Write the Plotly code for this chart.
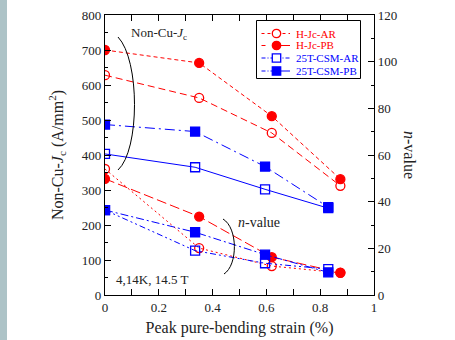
import plotly.graph_objects as go

# ---- data ----
strain_hjc = [0, 0.35, 0.62, 0.875]
strain_csm = [0, 0.335, 0.595, 0.83]

jc_hjc_ar = [628, 563, 463, 312]
jc_hjc_pb = [700, 663, 511, 331]
jc_csm_ar = [403, 365, 302, 248]
jc_csm_pb = [487, 467, 367, 251]

n_hjc_ar = [54.0, 20.1, 12.4, 9.5]
n_hjc_pb = [49.8, 33.6, 16.2, 9.6]
n_csm_ar = [36.4, 19.0, 13.6, 11.1]
n_csm_pb = [36.4, 26.9, 17.3, 9.7]

series_names = ["H-Jc-AR", "H-Jc-PB", "25T-CSM-AR", "25T-CSM-PB"]

RED = "#ff0000"
BLUE = "#0000ff"
FONT = "Liberation Serif, Times New Roman, Times, serif"
TXT = "#222222"

# plot-area geometry (pixels) used for decorative placements
L, R, T, B = 105, 374, 15, 295
def px(xp):
    return (xp - L) / (R - L)
def py(yp):
    return (B - yp) / (B - T)

fig = go.Figure()

def add(x, y, name, color, symbol, dash, yaxis):
    fig.add_trace(go.Scatter(
        x=x, y=y, mode="lines+markers", yaxis=yaxis, name=name,
        showlegend=False,
        line=dict(color=color, width=1, dash=dash),
        marker=dict(symbol=symbol, size=9, color=color,
                    line=dict(color=color, width=1.3)),
    ))

# Jc traces
add(strain_hjc, jc_hjc_ar, series_names[0], RED, "circle-open", "7px,4px", "y")
add(strain_hjc, jc_hjc_pb, series_names[1], RED, "circle", "4px,3px", "y")
add(strain_csm, jc_csm_ar, series_names[2], BLUE, "square-open", "solid", "y")
add(strain_csm, jc_csm_pb, series_names[3], BLUE, "square", "10px,4px,2px,4px", "y")
# n-value traces
add(strain_hjc, n_hjc_ar, series_names[0], RED, "circle-open", "2px,3px", "y2")
add(strain_hjc, n_hjc_pb, series_names[1], RED, "circle", "10px,4px", "y2")
add(strain_csm, n_csm_ar, series_names[2], BLUE, "square-open", "6px,3px,2px,3px,2px,3px", "y2")
add(strain_csm, n_csm_pb, series_names[3], BLUE, "square", "8px,3px,2px,3px", "y2")

axis_common = dict(
    showline=True, linecolor="black", linewidth=1.2,
    ticks="inside", ticklen=6, tickcolor="black", tickwidth=1,
    showgrid=False, zeroline=False, automargin=False,
    tickfont=dict(family=FONT, size=13, color=TXT),
)

fig.update_layout(
    width=455, height=340,
    margin=dict(l=L, r=455 - R, t=T, b=340 - B),
    paper_bgcolor="white", plot_bgcolor="white",
    font=dict(family=FONT, color=TXT),
    showlegend=False,
    xaxis=dict(range=[0, 1], dtick=0.2, mirror="allticks",
               minor=dict(dtick=0.1, ticks="inside", ticklen=3, tickcolor="black"),
               title=dict(text="Peak pure-bending strain (%)",
                          font=dict(family=FONT, size=16, color=TXT), standoff=8),
               **axis_common),
    yaxis=dict(range=[0, 800], dtick=100,
               minor=dict(dtick=50, ticks="inside", ticklen=3, tickcolor="black"),
               title=dict(text="Non-Cu-<i>J</i><sub>c</sub> (A/mm<sup>2</sup>)",
                          font=dict(family=FONT, size=16, color=TXT), standoff=14),
               **axis_common),
    yaxis2=dict(range=[0, 120], dtick=20, overlaying="y", side="right",
                minor=dict(dtick=10, ticks="inside", ticklen=3, tickcolor="black"),
                **axis_common),
)

# right axis title (reads top-to-bottom)
fig.add_annotation(xref="paper", yref="paper", x=px(410), y=0.5, textangle=90,
                   xanchor="center", yanchor="middle",
                   text="<i>n</i>-value", showarrow=False,
                   font=dict(family=FONT, size=16, color=TXT))
fig.add_annotation(xref="paper", yref="paper", x=px(129), y=py(33), xanchor="left",
                   yanchor="middle", text="Non-Cu-<i>J</i><sub>c</sub>", showarrow=False,
                   font=dict(family=FONT, size=13, color=TXT))
fig.add_annotation(xref="paper", yref="paper", x=px(236), y=py(222), xanchor="left",
                   yanchor="middle", text="<i>n</i>-value", showarrow=False,
                   font=dict(family=FONT, size=14, color=TXT))
fig.add_annotation(xref="paper", yref="paper", x=px(114), y=py(279), xanchor="left",
                   yanchor="middle", text="4,14K, 14.5 T", showarrow=False,
                   font=dict(family=FONT, size=13, color=TXT))

# braces
def bez(p0, c1, c2, p1):
    return "M {},{} C {},{} {},{} {},{}".format(
        px(p0[0]), py(p0[1]), px(c1[0]), py(c1[1]),
        px(c2[0]), py(c2[1]), px(p1[0]), py(p1[1]))
fig.add_shape(type="path", xref="paper", yref="paper",
              path=bez((118, 37), (140, 60), (140, 150), (118, 170)),
              line=dict(color="black", width=1))
fig.add_shape(type="path", xref="paper", yref="paper",
              path=bez((223, 219), (238, 228), (238, 265), (224, 274)),
              line=dict(color="black", width=1))

# custom compact legend
fig.add_shape(type="rect", xref="paper", yref="paper",
              x0=px(256.5), x1=px(360.5), y0=py(78.5), y1=py(20.5),
              fillcolor="white", line=dict(color="black", width=1))
legend_rows = [
    (series_names[0], RED, "circle", False, "3px,3px", "3px,3px"),
    (series_names[1], RED, "circle", True, "4px,8px", "solid"),
    (series_names[2], BLUE, "rect", False, "4px,2px,1px,2px", "4px,2px,1px,2px"),
    (series_names[3], BLUE, "rect", True, "4px,2px,1px,2px", "solid"),
]
row_y = [33.5, 45.5, 58, 71]
lx0, lxm, lx1, r = 261.5, 276.5, 290, 4.2
for (name, color, shp, filled, dash_l, dash_r), yy in zip(legend_rows, row_y):
    fig.add_shape(type="line", xref="paper", yref="paper",
                  x0=px(lx0), x1=px(lxm), y0=py(yy), y1=py(yy),
                  line=dict(color=color, width=1, dash=dash_l))
    fig.add_shape(type="line", xref="paper", yref="paper",
                  x0=px(lxm), x1=px(lx1), y0=py(yy), y1=py(yy),
                  line=dict(color=color, width=1, dash=dash_r))
    fig.add_shape(type=shp, xref="paper", yref="paper",
                  x0=px(lxm - r), x1=px(lxm + r), y0=py(yy + r), y1=py(yy - r),
                  fillcolor=color if filled else "white",
                  line=dict(color=color, width=1.3))
    fig.add_annotation(xref="paper", yref="paper", x=px(294), y=py(yy),
                       xanchor="left", yanchor="middle", text=name, showarrow=False,
                       font=dict(family=FONT, size=11, color=color))

# left decorative strip
fig.add_shape(type="rect", xref="paper", yref="paper",
              x0=px(0), x1=px(7), y0=-0.2, y1=1.1,
              fillcolor="#adc3c7", line=dict(width=0), layer="below")

fig.write_html("out.html")
